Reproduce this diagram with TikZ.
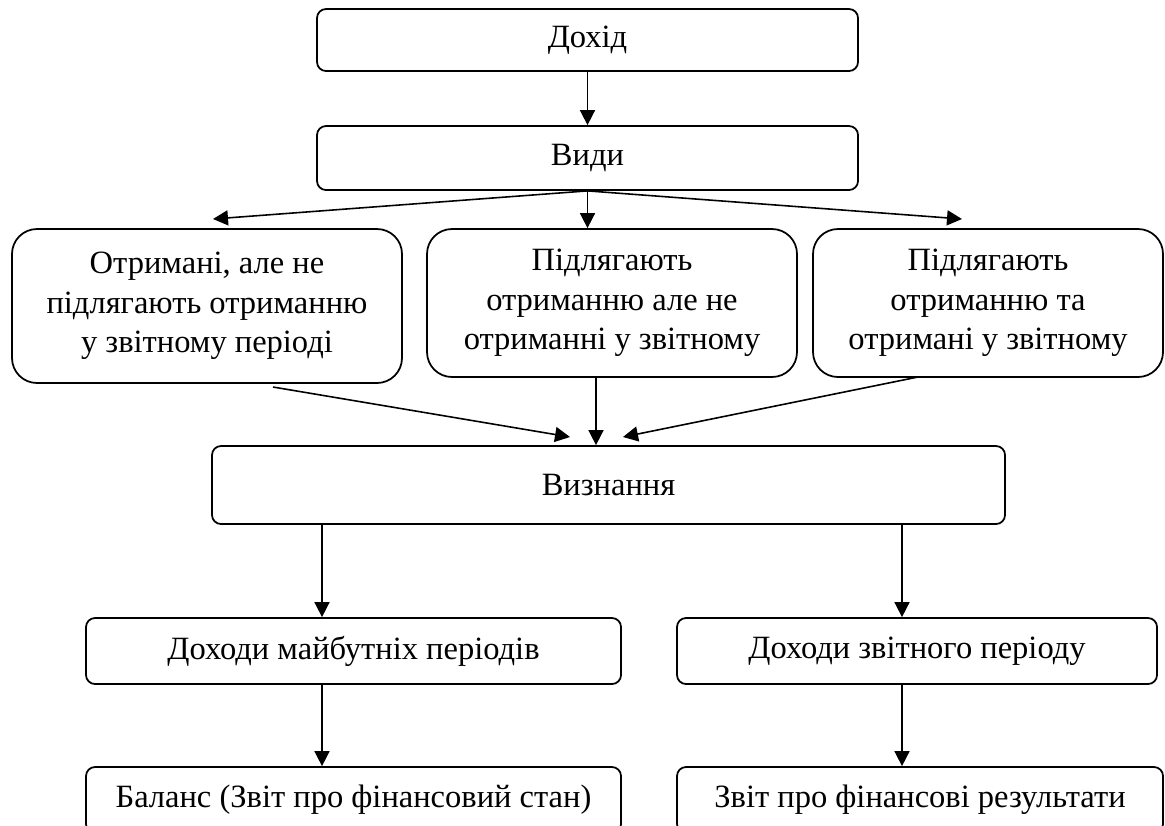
\documentclass[tikz,border=0pt]{standalone}
\usepackage{fontspec}
\setmainfont{Liberation Serif}
\usetikzlibrary{arrows.meta}

\tikzset{
	box/.style={draw, line width=1pt, rounded corners=.18cm, align=center, inner sep=0pt,
		font=\fontsize{18.5}{22.4}\selectfont},
	bigbox/.style={box, rounded corners=.5cm},
	arr/.style={line width=.9pt, -{Triangle[length=.3cm, width=.3cm]}}
}

\begin{document}
\begin{tikzpicture}
		\useasboundingbox (0,0) rectangle (23.3,-16.5);

		\node (dohid) [box, minimum width=10.82cm, minimum height=1.24cm] at (11.75,-0.80) {Дохід};
		\node (vydy) [box, minimum width=10.82cm, minimum height=1.28cm] at (11.75,-3.16) {Види};

		\node (otrym) [bigbox, minimum width=7.80cm, minimum height=3.08cm] at (4.14,-6.12)
			{Отримані, але не\\ підлягають отриманню\\ у звітному періоді};
		\node (pidl1) [bigbox, minimum width=7.40cm, minimum height=2.96cm] at (12.24,-6.06)
			{Підлягають\\ отриманню але не\\ отриманні у звітному};
		\node (pidl2) [bigbox, minimum width=7.00cm, minimum height=2.96cm] at (19.76,-6.06)
			{Підлягають\\ отриманню та\\ отримані у звітному};

		\node (vyzn) [box, minimum width=15.86cm, minimum height=1.56cm] at (12.17,-9.70) {Визнання};

		\node (maib) [box, minimum width=10.70cm, minimum height=1.32cm] at (7.07,-13.02) {Доходи майбутніх періодів};
		\node (zvitn) [box, minimum width=9.60cm, minimum height=1.32cm] at (18.34,-13.02) {Доходи звітного періоду};
		\node (balans) [box, minimum width=10.70cm, minimum height=1.32cm] at (7.07,-16.00) {Баланс (Звіт про фінансовий стан)};
		\node (zvit) [box, minimum width=9.72cm, minimum height=1.32cm] at (18.40,-16.00) {Звіт про фінансові результати};

		% free ends of the slanted arrows
		\coordinate (toleft) at (4.26,-4.38);
		\coordinate (toright) at (19.24,-4.38);
		\coordinate (fromleft) at (5.46,-7.74);
		\coordinate (fromright) at (18.36,-7.54);
		\coordinate (inleft) at (11.40,-8.74);
		\coordinate (inright) at (12.46,-8.74);
		\coordinate (lcol) at (6.44,0);
		\coordinate (rcol) at (18.04,0);

		\draw [arr] (dohid) -- (vydy);
		\draw [arr] (vydy.south) -- (toleft);
		\draw [arr] (vydy.south) -- (vydy.south |- pidl1.north);
		\draw [arr] (vydy.south) -- (toright);

		\draw [arr] (fromleft) -- (inleft);
		\draw [arr] ([xshift=-.32cm]pidl1.south) -- ([xshift=-.32cm]pidl1.south |- vyzn.north);
		\draw [arr] (fromright) -- (inright);

		\draw [arr] (vyzn.south -| lcol) -- (maib.north -| lcol);
		\draw [arr] (vyzn.south -| rcol) -- (zvitn.north -| rcol);
		\draw [arr] (maib.south -| lcol) -- (balans.north -| lcol);
		\draw [arr] (zvitn.south -| rcol) -- (zvit.north -| rcol);
	\end{tikzpicture}
\end{document}
